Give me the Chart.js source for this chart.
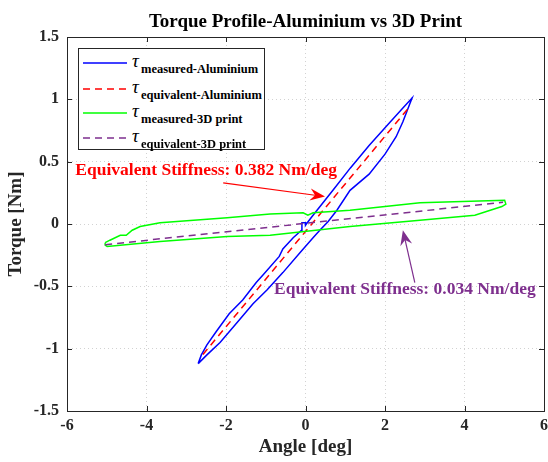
<!DOCTYPE html>
<html>
<head>
<meta charset="utf-8">
<title>Torque Profile</title>
<script src="https://cdn.jsdelivr.net/npm/chart.js@4.4.1/dist/chart.umd.min.js"></script>
<style>
    html, body { margin: 0; padding: 0; background: #fff; }
    #wrap { position: relative; width: 548px; height: 462px; }
    #legend {
        position: absolute; left: 78px; top: 48px; width: 185px; height: 100px;
        border: 1px solid #262626; background: #fff;
        font-family: "Liberation Serif", "Times New Roman", serif; color: #000;
    }
    #legend svg { position: absolute; left: 4px; }
    #legend .tau { position: absolute; left: 53px; font-size: 19px; line-height: 20px; font-style: italic; }
    #legend .sub { position: absolute; left: 62px; font-size: 12.5px; line-height: 14px; font-weight: bold; white-space: nowrap; }
</style>
</head>
<body>
<div id="wrap">
    <canvas id="myChart" width="548" height="462"></canvas>
    <div id="legend"></div>
</div>
<script>
//region Данные
const xTicks = [-6, -4, -2, 0, 2, 4, 6];
const yTicks = [-1.5, -1, -0.5, 0, 0.5, 1, 1.5];

const seriesNames = ['measured-Aluminium', 'equivalent-Aluminium', 'measured-3D print', 'equivalent-3D print'];

// петля алюминий (замер): вверх по левой кромке, потом вниз по правой
const alMeasX = [-2.70, -2.62, -2.48, -2.24, -1.92, -1.58, -1.24, -1.07, -0.66, -0.57, -0.31, -0.10, -0.09, -0.09, 0.00, 0.00, 0.02,
    0.19, 0.69, 1.13, 1.60, 2.08, 2.45, 2.68,
    2.62, 2.45, 2.28, 2.00, 1.60, 1.12, 0.79, 0.57, 0.36, 0.19, -0.14, -0.57, -0.97, -1.32, -1.72, -2.15, -2.48, -2.70];
const alMeasY = [-1.12, -1.05, -0.97, -0.86, -0.72, -0.61, -0.47, -0.41, -0.26, -0.20, -0.11, -0.05, -0.02, 0.01, 0.01, -0.01, 0.00,
    0.07, 0.27, 0.45, 0.63, 0.80, 0.93, 1.01,
    0.96, 0.82, 0.70, 0.56, 0.40, 0.27, 0.11, 0.02, -0.05, -0.11, -0.23, -0.39, -0.53, -0.64, -0.79, -0.95, -1.05, -1.12];

// эквивалентная прямая алюминий
const alEqX = [-2.58, 2.62];
const alEqY = [-1.046, 0.941];

// петля 3D печать (замер)
const prMeasX = [-5.04, -4.92, -4.66, -4.51, -4.36, -4.16, -3.66, -1.97, -0.89, -0.06, 0.06, 0.19, 1.12, 2.88, 5.01,
    5.04, 4.94, 4.26, 2.88, 1.12, -0.89, -1.97, -3.66, -4.99, -5.04, -5.04];
const prMeasY = [-0.15, -0.13, -0.09, -0.09, -0.05, -0.02, 0.01, 0.05, 0.08, 0.09, 0.07, 0.09, 0.11, 0.17, 0.19,
    0.16, 0.14, 0.07, 0.03, -0.02, -0.09, -0.10, -0.14, -0.18, -0.17, -0.15];

// эквивалентная прямая 3D печать
const prEqX = [-5.04, 4.97];
const prEqY = [-0.166, 0.174];

// подписи со стрелками
const noteTexts = ['Equivalent Stiffness: 0.382 Nm/deg', 'Equivalent Stiffness: 0.034 Nm/deg'];
const noteX = [-2.50, 2.50];
const noteY = [0.427, -0.528];
const arrowFromX = [-2.07, 2.75];
const arrowFromY = [0.33, -0.47];
const arrowToX = [0.49, 2.45];
const arrowToY = [0.22, -0.05];
//endregion

const serif = '"Liberation Serif", "Times New Roman", serif';
const axisColor = '#262626';
const colors = ['#0000ff', '#ff0000', '#00ff00', '#7e2f8e'];
const noteColors = ['#ff0000', '#7e2f8e'];
const dashes = [[], [7, 5], [], [7, 5]];

function toPoints(xs, ys) {
    return xs.map((x, i) => ({x: x, y: ys[i]}));
}

const seriesData = [
    toPoints(alMeasX, alMeasY),
    toPoints(alEqX, alEqY),
    toPoints(prMeasX, prMeasY),
    toPoints(prEqX, prEqY)
];

//region Рамка и засечки внутрь
const boxPlugin = {
    id: 'boxPlugin',
    afterDraw(chart) {
        const {ctx, chartArea: a, scales: {x, y}} = chart;
        ctx.save();
        ctx.strokeStyle = axisColor;
        ctx.lineWidth = 1;
        ctx.beginPath();
        xTicks.forEach(v => {
            const px = Math.round(x.getPixelForValue(v)) + 0.5;
            ctx.moveTo(px, a.bottom); ctx.lineTo(px, a.bottom - 5);
            ctx.moveTo(px, a.top); ctx.lineTo(px, a.top + 5);
        });
        yTicks.forEach(v => {
            const py = Math.round(y.getPixelForValue(v)) + 0.5;
            ctx.moveTo(a.left, py); ctx.lineTo(a.left + 5, py);
            ctx.moveTo(a.right, py); ctx.lineTo(a.right - 5, py);
        });
        ctx.stroke();
        ctx.strokeRect(Math.round(a.left) + 0.5, Math.round(a.top) + 0.5,
            Math.round(a.right - a.left), Math.round(a.bottom - a.top));
        ctx.restore();
    }
};
//endregion

//region Подписи жёсткости и стрелки
function drawArrow(ctx, x1, y1, x2, y2, color) {
    const ang = Math.atan2(y2 - y1, x2 - x1);
    const len = 15, half = 6, notch = 10;
    ctx.strokeStyle = color;
    ctx.fillStyle = color;
    ctx.lineWidth = 1.2;
    ctx.beginPath();
    ctx.moveTo(x1, y1);
    ctx.lineTo(x2 - Math.cos(ang) * notch, y2 - Math.sin(ang) * notch);
    ctx.stroke();
    const bx = x2 - Math.cos(ang) * len, by = y2 - Math.sin(ang) * len;
    ctx.beginPath();
    ctx.moveTo(x2, y2);
    ctx.lineTo(bx + Math.sin(ang) * half, by - Math.cos(ang) * half);
    ctx.lineTo(x2 - Math.cos(ang) * notch, y2 - Math.sin(ang) * notch);
    ctx.lineTo(bx - Math.sin(ang) * half, by + Math.cos(ang) * half);
    ctx.closePath();
    ctx.fill();
}

const notesPlugin = {
    id: 'notesPlugin',
    afterDatasetsDraw(chart) {
        const {ctx, scales: {x, y}} = chart;
        ctx.save();
        noteTexts.forEach((t, i) => {
            drawArrow(ctx,
                x.getPixelForValue(arrowFromX[i]), y.getPixelForValue(arrowFromY[i]),
                x.getPixelForValue(arrowToX[i]), y.getPixelForValue(arrowToY[i]), noteColors[i]);
            ctx.fillStyle = noteColors[i];
            ctx.font = 'bold 17.5px ' + serif;
            ctx.textAlign = 'center';
            ctx.textBaseline = 'middle';
            ctx.fillText(t, x.getPixelForValue(noteX[i]), y.getPixelForValue(noteY[i]));
        });
        ctx.restore();
    }
};
//endregion

//region Легенда (html, с индексами)
const legendRows = [13.7, 40.3, 63.7, 89.3];
function buildLegend(chart) {
    const box = document.getElementById('legend');
    box.innerHTML = '';
    chart.data.datasets.forEach((ds, i) => {
        const c = legendRows[i];
        const svg = document.createElementNS('http://www.w3.org/2000/svg', 'svg');
        svg.setAttribute('width', '46');
        svg.setAttribute('height', '6');
        svg.style.top = (c - 3) + 'px';
        const ln = document.createElementNS('http://www.w3.org/2000/svg', 'line');
        ln.setAttribute('x1', '0'); ln.setAttribute('y1', '3');
        ln.setAttribute('x2', '44'); ln.setAttribute('y2', '3');
        ln.setAttribute('stroke', ds.borderColor);
        ln.setAttribute('stroke-width', '1.5');
        if (ds.borderDash.length) ln.setAttribute('stroke-dasharray', ds.borderDash.join(' '));
        svg.appendChild(ln);
        box.appendChild(svg);

        const tau = document.createElement('span');
        tau.className = 'tau';
        tau.style.top = (c - 12) + 'px';
        tau.textContent = 'τ';
        box.appendChild(tau);

        const sub = document.createElement('span');
        sub.className = 'sub';
        sub.style.top = (c - 1) + 'px';
        sub.textContent = ds.label;
        box.appendChild(sub);
    });
}
//endregion

//region Инициализация графика
const ctx = document.getElementById('myChart');
const tickFont = {family: serif, size: 16, weight: 'bold'};
const titleFont = {family: serif, size: 19, weight: 'bold', lineHeight: 1.2};
let chart = new Chart(ctx, {
    type: 'scatter',
    data: {
        datasets: seriesData.map((pts, i) => ({
            label: seriesNames[i],
            data: pts,
            showLine: true,
            fill: false,
            tension: 0,
            borderColor: colors[i],
            backgroundColor: colors[i],
            borderWidth: 1.5,
            borderDash: dashes[i],
            pointRadius: 0,
            order: 3 - i
        }))
    },
    options: {
        responsive: false,
        animation: false,
        layout: {padding: {top: 0, right: 4, left: 0, bottom: 0}},
        plugins: {
            legend: {display: false},
            tooltip: {enabled: false},
            title: {
                display: true,
                fullSize: false,
                text: 'Torque Profile-Aluminium vs 3D Print',
                color: '#000',
                font: {family: serif, size: 19, weight: 'bold', lineHeight: 1.2},
                padding: {top: 11, bottom: 3.2}
            }
        },
        scales: {
            x: {
                type: 'linear',
                min: -6,
                max: 6,
                afterBuildTicks: s => { s.ticks = xTicks.map(v => ({value: v})); },
                afterFit: s => { s.height = 51; s.paddingLeft = 0; s.paddingRight = 0; },
                ticks: {
                    color: axisColor,
                    font: tickFont,
                    padding: 5,
                    maxRotation: 0,
                    autoSkip: false,
                    callback: v => String(v)
                },
                grid: {color: '#d2d2d2', lineWidth: 1, drawTicks: false},
                border: {display: true, color: axisColor, dash: [1, 3]},
                title: {
                    display: true,
                    text: 'Angle [deg]',
                    color: axisColor,
                    font: titleFont,
                    padding: {top: 0, bottom: 4}
                }
            },
            y: {
                type: 'linear',
                min: -1.5,
                max: 1.5,
                afterBuildTicks: s => { s.ticks = yTicks.map(v => ({value: v})); },
                afterFit: s => { s.width = 67; },
                ticks: {
                    color: axisColor,
                    font: tickFont,
                    padding: 8,
                    autoSkip: false,
                    callback: v => String(v)
                },
                grid: {color: '#d2d2d2', lineWidth: 1, drawTicks: false},
                border: {display: true, color: axisColor, dash: [1, 3]},
                title: {
                    display: true,
                    text: 'Torque [Nm]',
                    color: axisColor,
                    font: titleFont,
                    padding: {top: 5, bottom: 0}
                }
            }
        }
    },
    plugins: [notesPlugin, boxPlugin]
});
buildLegend(chart);
//endregion
</script>
</body>
</html>
